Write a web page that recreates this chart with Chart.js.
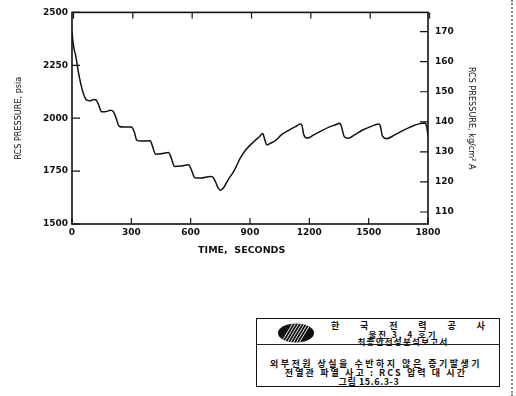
<!DOCTYPE html>
<html>
<head>
<meta charset="utf-8">
<script src="https://cdn.jsdelivr.net/npm/chart.js@4/dist/chart.umd.min.js"></script>
<style>
  html, body { margin: 0; padding: 0; background: #fff; }
  #wrap { position: relative; width: 516px; height: 396px; overflow: hidden; background: #fff; }
  #c { position: absolute; left: 0; top: 0; }
  #edge { position: absolute; left: 511px; top: 0; width: 0; height: 396px; border-left: 2px dotted #8a8a8a; }
  #box { position: absolute; left: 256px; top: 318px; width: 244px; height: 69px; border: 1.5px solid #111; box-sizing: border-box; font-family: "Noto Sans CJK KR", sans-serif; font-weight: 700; color: #111; }
  #hdr { position: absolute; left: 0; top: 0; width: 100%; height: 26px; border-bottom: 1.5px solid #222; box-sizing: border-box; }
  .ln { position: absolute; white-space: nowrap; font-size: 9px; line-height: 9px; text-align: center; }
  .sm { font-size: 8.5px; line-height: 8px; }
  #logo { position: absolute; left: 20px; top: 4px; }
</style>
</head>
<body>
<div id="wrap">
  <canvas id="c" width="516" height="262"></canvas>
  <div id="edge"></div>
  <div id="box">
    <div id="hdr">
      <svg id="logo" width="38" height="20" viewBox="0 0 38 20">
        <defs>
          <clipPath id="ov"><ellipse cx="19" cy="10" rx="18" ry="9.5"/></clipPath>
        </defs>
        <g clip-path="url(#ov)">
          <rect x="0" y="0" width="38" height="20" fill="#111"/>
          <g stroke="#fff" stroke-width="0.9">
            <line x1="4" y1="20" x2="16" y2="0"/>
            <line x1="7" y1="20" x2="19" y2="0"/>
            <line x1="10" y1="20" x2="22" y2="0"/>
            <line x1="13" y1="20" x2="25" y2="0"/>
            <line x1="16" y1="20" x2="28" y2="0"/>
            <line x1="19" y1="20" x2="31" y2="0"/>
            <line x1="22" y1="20" x2="34" y2="0"/>
          </g>
        </g>
      </svg>
      <div class="ln" style="left:74px; top:2px; width:160px; letter-spacing:9.4px; text-align:left;">한 국 전 력 공 사</div>
      <div class="ln sm" style="left:86px; top:10.5px; width:120px; letter-spacing:1.9px;">울진 3, 4 호기</div>
      <div class="ln sm" style="left:86px; top:18px; width:120px; letter-spacing:1.3px;">최종안전성분석보고서</div>
    </div>
    <div class="ln" style="left:0; top:40px; width:238px; letter-spacing:2.5px;">외부전원 상실을 수반하지 않은 증기발생기</div>
    <div class="ln" style="left:0; top:49px; width:238px; letter-spacing:2.1px;">전열관 파열 사고 : RCS 압력 대 시간</div>
    <div class="ln" style="left:0; top:58px; width:224px; letter-spacing:0.6px;">그림 15.6.3-3</div>
  </div>
</div>
<script>
// ---- data ----
const times = [0, 5, 10, 20, 30, 45, 60, 75, 90, 110, 122, 135, 150, 165, 195, 210, 225, 238, 260, 300,
  315, 328, 350, 395, 408, 422, 450, 488, 502, 518, 550, 590, 606, 622, 650, 700, 712, 725, 740, 752,
  765, 790, 820, 850, 880, 920, 950, 965, 972, 985, 1000, 1030, 1060, 1100, 1130, 1156, 1163, 1172, 1190,
  1220, 1260, 1300, 1330, 1354, 1362, 1376, 1395, 1430, 1465, 1510, 1550, 1558, 1570, 1590, 1630, 1670,
  1710, 1750, 1786, 1793, 1800];
const psia = [2410, 2360, 2330, 2290, 2230, 2160, 2110, 2085, 2082, 2088, 2086, 2062, 2030, 2030, 2037, 2030, 1995, 1962, 1958, 1958,
  1935, 1895, 1892, 1893, 1865, 1830, 1832, 1838, 1812, 1772, 1774, 1780, 1750, 1718, 1717, 1725, 1722, 1700, 1668, 1660,
  1670, 1710, 1752, 1810, 1852, 1890, 1915, 1928, 1908, 1874, 1880, 1895, 1922, 1945, 1960, 1972, 1965, 1922, 1906,
  1920, 1940, 1958, 1968, 1976, 1962, 1914, 1905, 1922, 1942, 1960, 1973, 1965, 1915, 1903, 1920, 1940,
  1958, 1972, 1977, 1960, 1920];
const timeTicks = [0, 300, 600, 900, 1200, 1500, 1800];
const psiaTicks = [1500, 1750, 2000, 2250, 2500];
const kgTicks = [110, 120, 130, 140, 150, 160, 170];

const tickFont = { family: "DejaVu Sans", size: 9, weight: "bold" };
const titleFont = { family: "Liberation Sans Narrow, DejaVu Sans Condensed, sans-serif", size: 9 };
const plain = v => String(v);

const points = times.map((t, i) => ({ x: t, y: psia[i] }));

const frameTicks = {
  id: 'frameTicks',
  afterDatasetsDraw(chart) {
    const { ctx, chartArea: a, scales } = chart;
    ctx.save();
    ctx.strokeStyle = '#111';
    ctx.lineWidth = 1.2;
    ctx.beginPath();
    scales.x.ticks.forEach(t => {
      const px = scales.x.getPixelForValue(t.value);
      ctx.moveTo(px, a.bottom); ctx.lineTo(px, a.bottom - 6);
      ctx.moveTo(px + 1.5, a.top); ctx.lineTo(px + 1.5, a.top + 6);
    });
    scales.y.ticks.forEach(t => {
      const py = scales.y.getPixelForValue(t.value);
      ctx.moveTo(a.left, py); ctx.lineTo(a.left + 8, py);
    });
    scales.y2.ticks.forEach(t => {
      const py = scales.y2.getPixelForValue(t.value);
      ctx.moveTo(a.right, py); ctx.lineTo(a.right - 8, py);
    });
    ctx.stroke();
    ctx.lineWidth = 1.6;
    ctx.strokeRect(a.left, a.top, a.right - a.left, a.bottom - a.top);
    ctx.restore();
  }
};

new Chart(document.getElementById('c'), {
  type: 'line',
  data: {
    datasets: [{
      data: points,
      borderColor: '#111',
      borderWidth: 1.5,
      pointRadius: 0,
      fill: false,
      cubicInterpolationMode: 'monotone',
      yAxisID: 'y'
    }]
  },
  options: {
    responsive: false,
    animation: false,
    layout: { padding: { top: 9, left: 0, right: 0, bottom: 0 } },
    plugins: { legend: { display: false }, tooltip: { enabled: false } },
    scales: {
      x: {
        type: 'linear', position: 'bottom', min: 0, max: 1800,
        afterBuildTicks: s => { s.ticks = timeTicks.map(v => ({ value: v })); },
        afterFit: s => { s.height = 38; },
        grid: { display: false, drawTicks: false }, border: { display: false },
        ticks: { color: '#111', font: tickFont, padding: 3, maxRotation: 0, callback: plain },
        title: { display: true, text: 'TIME,  SECONDS     ', color: '#111', font: { family: "DejaVu Sans", size: 9.5, weight: 'bold' }, padding: { top: 0, bottom: 6 } }
      },
      y: {
        type: 'linear', position: 'left', min: 1500, max: 2500,
        afterBuildTicks: s => { s.ticks = psiaTicks.map(v => ({ value: v })); },
        afterFit: s => { s.width = 72; },
        grid: { display: false, drawTicks: false }, border: { display: false },
        ticks: { color: '#111', font: tickFont, padding: 4, callback: plain },
        title: { display: true, text: 'RCS PRESSURE, psia', color: '#111', font: titleFont, padding: { top: 13, bottom: 0 } }
      },
      y2: {
        type: 'linear', position: 'right', min: 106, max: 176.4,
        afterBuildTicks: s => { s.ticks = kgTicks.map(v => ({ value: v })); },
        afterFit: s => { s.width = 88; },
        grid: { display: false, drawTicks: false }, border: { display: false },
        ticks: { color: '#111', font: tickFont, padding: 7, callback: plain },
        title: { display: true, text: 'RCS PRESSURE, kg/cm² A', color: '#111', font: titleFont, padding: { top: 39, bottom: 0 } }
      }
    }
  },
  plugins: [frameTicks]
});
</script>
</body>
</html>
